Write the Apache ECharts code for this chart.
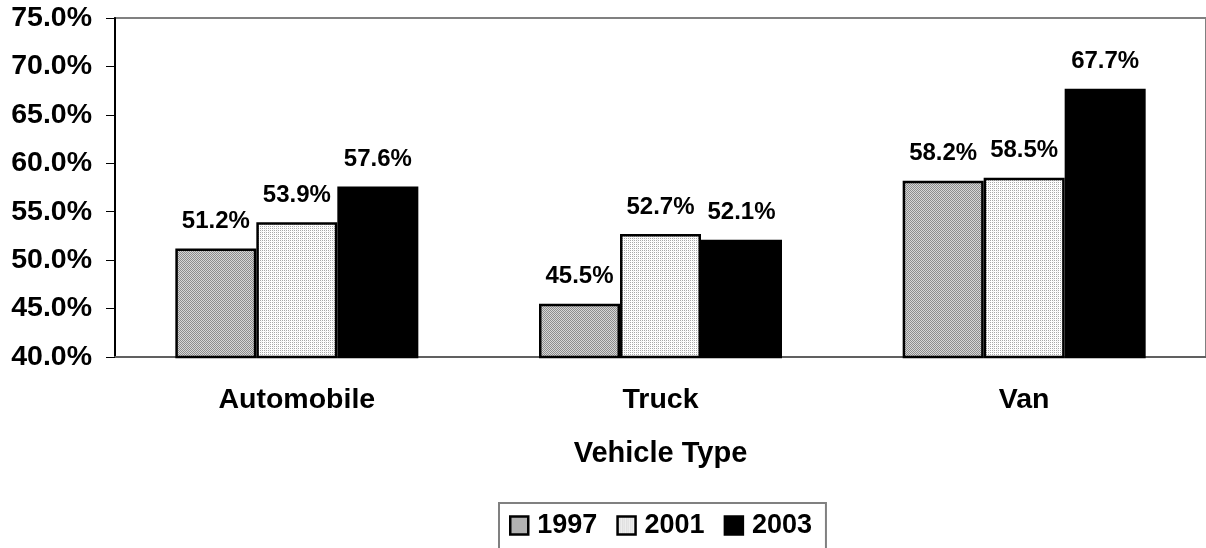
<!DOCTYPE html>
<html>
<head>
<meta charset="utf-8">
<script src="https://cdn.jsdelivr.net/npm/echarts@6/dist/echarts.min.js"></script>
<style>
  html, body { margin: 0; padding: 0; background: #fff; }
  #chart { width: 1206px; height: 548px; }
</style>
</head>
<body>
<div id="chart"></div>
<script>
// data
var categories = ['Automobile', 'Truck', 'Van']
var years = ['1997', '2001', '2003']
var values1997 = [51.2, 45.5, 58.2]
var values2001 = [53.9, 52.7, 58.5]
var values2003 = [57.6, 52.1, 67.7]
var yMin = 40, yMax = 75, yStep = 5

var font = '"Liberation Sans", Arial, sans-serif'

// little hatch patterns like the old office fills
function makePattern(w, h, pixels) {
    var c = document.createElement('canvas')
    c.width = w
    c.height = h
    var ctx = c.getContext('2d')
    for (var y = 0; y < h; y++) {
        for (var x = 0; x < w; x++) {
            ctx.fillStyle = pixels[y][x]
            ctx.fillRect(x, y, 1, 1)
        }
    }
    return { image: c, repeat: 'repeat' }
}

var grayFill = makePattern(2, 2, [
    ['#8c8c8c', '#d6d6d6'],
    ['#d6d6d6', '#8c8c8c']
])
var lightFill = makePattern(4, 2, [
    ['#a8a8a8', '#ffffff', '#a8a8a8', '#ffffff'],
    ['#ffffff', '#ececec', '#ffffff', '#ffffff']
])

var chart = echarts.init(document.getElementById('chart'))

function barSeries(name, data, fill) {
    return {
        name: name,
        type: 'bar',
        data: data,
        barWidth: 81,
        barGap: '0%',
        itemStyle: {
            color: fill,
            borderColor: '#000',
            borderWidth: 2.5
        },
        label: {
            show: true,
            position: 'top',
            distance: 15,
            color: '#000',
            fontFamily: font,
            fontWeight: 'bold',
            fontSize: 24,
            formatter: function (p) { return p.value.toFixed(1) + '%' }
        }
    }
}

chart.setOption({
    animation: false,
    backgroundColor: '#fff',
    textStyle: { fontFamily: font },
    grid: {
        show: true,
        left: 115,
        top: 18,
        width: 1095,
        bottom: 191,
        borderColor: '#808080',
        borderWidth: 2,
        backgroundColor: 'transparent'
    },
    legend: {
        data: years,
        left: 499,
        top: 503,
        orient: 'horizontal',
        icon: 'rect',
        itemWidth: 18,
        itemHeight: 18,
        itemGap: 19,
        padding: [9, 14, 40, 10],
        borderColor: '#808080',
        borderWidth: 2,
        itemStyle: { borderColor: '#000', borderWidth: 2.5 },
        textStyle: {
            color: '#000',
            fontFamily: font,
            fontWeight: 'bold',
            fontSize: 27,
            padding: [0, 0, 0, 4]
        }
    },
    xAxis: {
        type: 'category',
        data: categories,
        name: 'Vehicle Type',
        nameLocation: 'middle',
        nameGap: 82,
        nameTextStyle: {
            color: '#000',
            fontFamily: font,
            fontWeight: 'bold',
            fontSize: 29
        },
        axisLine: { lineStyle: { color: '#606060', width: 2 } },
        axisTick: { length: 10, lineStyle: { color: '#606060', width: 2 } },
        axisLabel: {
            margin: 29,
            color: '#000',
            fontFamily: font,
            fontWeight: 'bold',
            fontSize: 28.5
        }
    },
    yAxis: {
        type: 'value',
        min: yMin,
        max: yMax,
        interval: yStep,
        splitLine: { show: false },
        axisLine: { show: true, lineStyle: { color: '#000', width: 2 } },
        axisTick: { show: true, length: 9, lineStyle: { color: '#000', width: 1 } },
        axisLabel: {
            margin: 23,
            color: '#000',
            fontFamily: font,
            fontWeight: 'bold',
            fontSize: 28.5,
            formatter: function (v) { return v.toFixed(1) + '%' }
        }
    },
    series: [
        barSeries(years[0], values1997, grayFill),
        barSeries(years[1], values2001, lightFill),
        barSeries(years[2], values2003, '#000')
    ]
})
</script>
</body>
</html>
